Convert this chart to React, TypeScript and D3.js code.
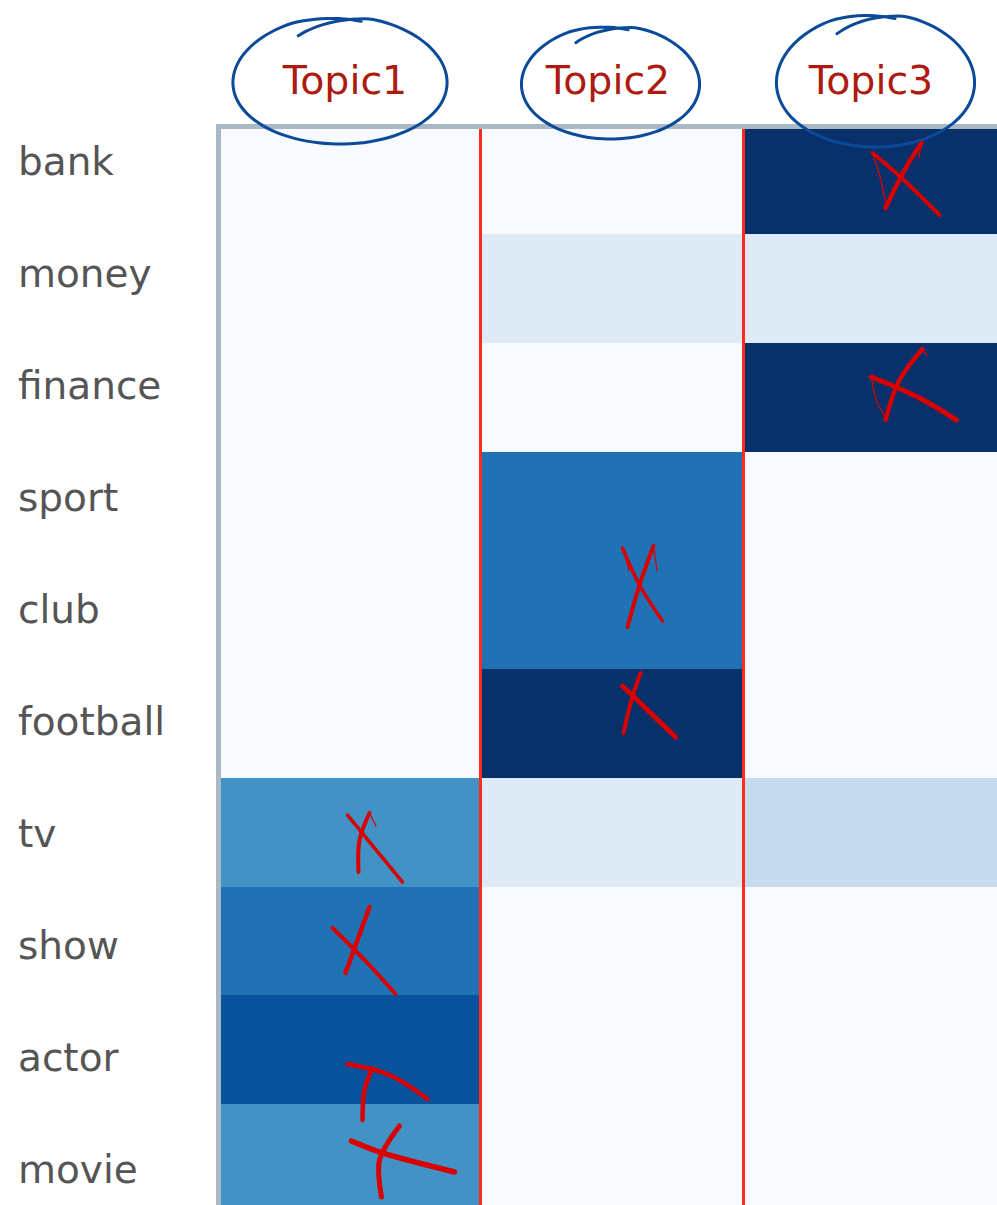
import React from "react";
import * as d3 from "d3";

// ---------- data ----------
const rows = ["bank", "money", "finance", "sport", "club", "football", "tv", "show", "actor", "movie"];
const topics = ["Topic1", "Topic2", "Topic3"];
const topic1 = [0, 0, 0, 0, 0, 0, 0.6, 0.7, 0.8, 0.6];
const topic2 = [0, 0.15, 0, 0.7, 0.7, 0.95, 0.15, 0, 0, 0];
const topic3 = [0.95, 0.15, 0.95, 0, 0, 0, 0.25, 0, 0, 0];
const seriesValues = [topic1, topic2, topic3];

// hand-drawn annotations: X marks on chosen cells (offsets relative to the cell centre)
type Stroke = { pts: [number, number][]; w: number };
type Mark = { row: string; topic: string; strokes: Stroke[] };
const marks: Mark[] = [
  {
    row: "bank", topic: "Topic3", strokes: [
      { pts: [[-2.5, -26.6], [24.5, -3.6], [64.5, 35.4]], w: 4 },
      { pts: [[46.5, -36.6], [29.5, -9.6], [10.5, 28.4]], w: 4.5 },
      { pts: [[-2.5, -26.6], [4.5, -4.6], [10.5, 22]], w: 1.3 },
      { pts: [[46.5, -36.6], [44, -22]], w: 1.3 },
    ],
  },
  {
    row: "finance", topic: "Topic3", strokes: [
      { pts: [[-3.5, -20.1], [44.5, 0.9], [81.5, 22.9]], w: 5 },
      { pts: [[47.5, -48.1], [24.5, -17.1], [10.5, 22.9]], w: 4.5 },
      { pts: [[-3.5, -20.1], [1, 2], [10.5, 20]], w: 1.3 },
      { pts: [[47.5, -48.1], [52, -42]], w: 1.3 },
    ],
  },
  {
    row: "club", topic: "Topic2", strokes: [
      { pts: [[10.5, -66.6], [27.5, -29.6], [50.5, 6.4]], w: 3.5 },
      { pts: [[41.5, -68.6], [27.5, -29.6], [15.5, 12.4]], w: 4 },
      { pts: [[10.5, -66.6], [17, -44]], w: 1.2 },
      { pts: [[41.5, -68.6], [45, -44]], w: 1.2 },
    ],
  },
  {
    row: "football", topic: "Topic2", strokes: [
      { pts: [[10.5, -37.4], [37.5, -11.4], [63.5, 13.6]], w: 5 },
      { pts: [[28.5, -50.4], [19.5, -23.4], [11.5, 9.6]], w: 4 },
    ],
  },
  {
    row: "tv", topic: "Topic1", strokes: [
      { pts: [[-1.5, -17.1], [25.5, 15.9], [53.5, 49.9]], w: 3.5 },
      { pts: [[20.5, -19.1], [10.5, 7.9], [9.5, 39.9]], w: 4 },
      { pts: [[20.5, -19.1], [27, -6]], w: 1.2 },
    ],
  },
  {
    row: "show", topic: "Topic1", strokes: [
      { pts: [[-16.5, -12.9], [15.5, 19.1], [46.5, 53.1]], w: 4 },
      { pts: [[20.5, -33.9], [8.5, -0.9], [-3.5, 32.1]], w: 4.5 },
    ],
  },
  {
    row: "actor", topic: "Topic1", strokes: [
      { pts: [[-1.5, 14.4], [40.5, 25.4], [78.5, 49.4]], w: 4.5 },
      { pts: [[23.5, 18.4], [15.5, 40.4], [13.5, 70.4]], w: 4.5 },
    ],
  },
  {
    row: "movie", topic: "Topic1", strokes: [
      { pts: [[2.5, -17.4], [33.5, -5.4], [105.5, 13.6]], w: 5.5 },
      { pts: [[50.5, -32.4], [30.5, 1.6], [32.5, 38.6]], w: 5 },
    ],
  },
];

// hand-drawn circles round the topic labels (relative to the label centre)
const circles = [
  { topic: "Topic1", dx: -9, dy: 0, rx: 107, ry: 64 },
  { topic: "Topic2", dx: -1.5, dy: 2, rx: 89, ry: 57 },
  { topic: "Topic3", dx: 0.5, dy: 0, rx: 99, ry: 67 },
];

const W = 997;
const H = 1205;

export default function App() {
  const x = d3.scaleBand<string>().domain(topics).range([217.5, 217.5 + 263 * 3]);
  const y = d3.scaleBand<string>().domain(rows).range([125.25, 125.25 + 108.75 * 10]);
  const labelY = d3.scaleBand<string>().domain(rows).range([105.5, 105.5 + 112 * 10]);
  const color = d3.scaleQuantize<string>().domain([0, 1]).range(d3.schemeBlues[9] as string[]);

  const line = d3.line<[number, number]>().curve(d3.curveCatmullRom.alpha(0.5));

  const cells: { r: string; t: string; v: number }[] = [];
  topics.forEach((t, ti) => rows.forEach((r, ri) => cells.push({ r, t, v: seriesValues[ti][ri] })));

  const labelCy = 80;

  const circlePath = (c: typeof circles[number]) => {
    const cx = (x(c.topic) as number) + x.bandwidth() / 2 + c.dx;
    const cy = labelCy + c.dy;
    const t0 = -2.1;
    const sweep = Math.PI * 2 + 0.75;
    const pts: [number, number][] = d3.range(0, 61).map((i) => {
      const f = i / 60;
      const t = t0 + sweep * f;
      const s = f < 0.12 ? 0.8 + (0.2 * f) / 0.12 : f > 0.9 ? 1 - (f - 0.9) * 0.6 : 1;
      const egg = 1 + 0.04 * Math.sin(t);
      return [cx + c.rx * s * Math.cos(t) * egg, cy + c.ry * s * Math.sin(t)];
    });
    return line(pts) as string;
  };

  return (
    <svg
      width={W}
      height={H}
      style={{ position: "absolute", left: 0, top: 0, display: "block", overflow: "hidden", background: "#fff" }}
    >
      {/* heatmap cells */}
      <g shapeRendering="crispEdges">
        {cells.map((c) => (
          <rect
            key={c.r + c.t}
            x={x(c.t)}
            y={y(c.r)}
            width={x.bandwidth() + 0.5}
            height={y.bandwidth() + 0.5}
            fill={color(c.v)}
          />
        ))}
      </g>
      {/* column separators */}
      {topics.slice(1).map((t) => (
        <line
          key={t}
          x1={x(t)}
          x2={x(t)}
          y1={y.range()[0]}
          y2={H}
          stroke="#ff2b1c"
          strokeWidth={3}
        />
      ))}
      {/* frame */}
      <path
        d={`M${x.range()[0] + 1},${H} V${y.range()[0] + 1.25} H${W}`}
        fill="none"
        stroke="#a9b8c4"
        strokeWidth={5}
      />
      {/* row labels */}
      {rows.map((r) => (
        <text
          key={r}
          x={18}
          y={(labelY(r) as number) + labelY.bandwidth() / 2}
          dy="0.35em"
          fontFamily="DejaVu Sans, Verdana, sans-serif"
          fontSize={39}
          fill="#555555"
        >
          {r}
        </text>
      ))}
      {/* topic labels */}
      {topics.map((t) => (
        <text
          key={t}
          x={(x(t) as number) + x.bandwidth() / 2 - 4}
          y={94}
          textAnchor="middle"
          fontFamily="DejaVu Sans, Verdana, sans-serif"
          fontSize={39.5}
          fill="#ad1a0f"
        >
          {t}
        </text>
      ))}
      {/* circles */}
      {circles.map((c) => (
        <path key={c.topic} d={circlePath(c)} fill="none" stroke="#0b4a98" strokeWidth={3} strokeLinecap="round" />
      ))}
      {/* X marks */}
      {marks.map((m) => {
        const cx = (x(m.topic) as number) + x.bandwidth() / 2;
        const cy = (y(m.row) as number) + y.bandwidth() / 2;
        return (
          <g key={m.row + m.topic} transform={`translate(${cx},${cy})`}>
            {m.strokes.map((s, i) => (
              <path
                key={i}
                d={line(s.pts) as string}
                fill="none"
                stroke="#d90000"
                strokeWidth={s.w}
                strokeLinecap="round"
                strokeLinejoin="round"
              />
            ))}
          </g>
        );
      })}
    </svg>
  );
}
